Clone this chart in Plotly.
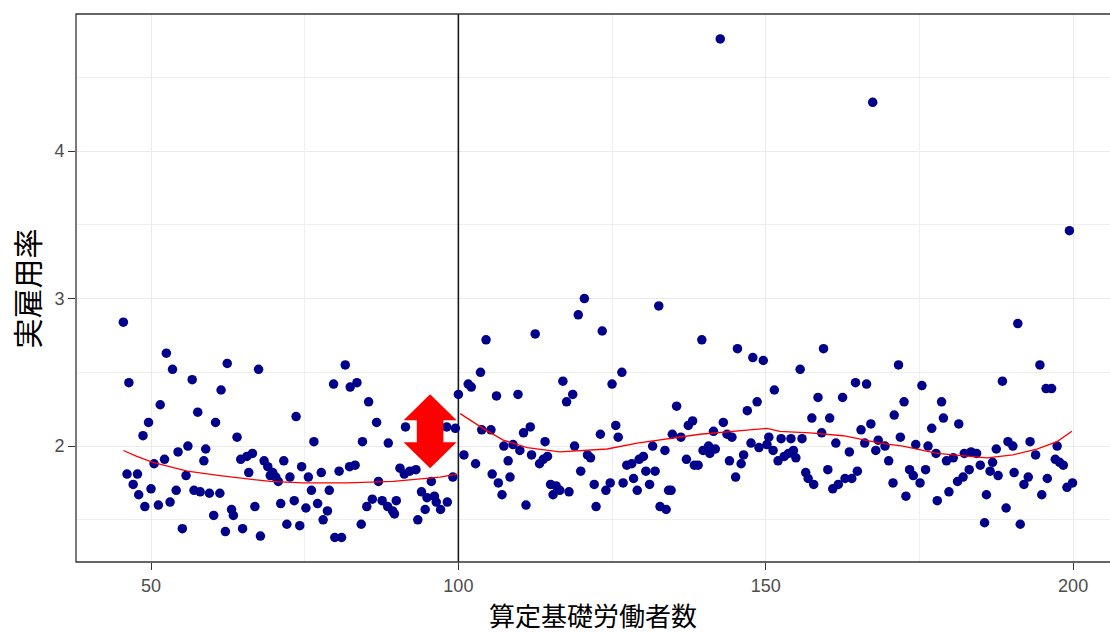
import plotly.graph_objects as go

# ---- data ----
workers = [
    45.5, 52.5, 53.5, 62.4, 67.5, 46.4, 56.7, 61.4, 51.5, 57.6, 49.6, 60.5, 48.7, 64.0, 56.0, 58.9,
    54.4, 66.5, 65.6, 64.6, 52.2, 58.6, 50.5, 68.4, 69.0, 46.1, 47.8, 55.7, 65.9, 47.1, 50.0, 54.1,
    57.0, 58.0, 59.5, 61.2, 48.0, 49.0, 51.2, 53.1, 66.9, 63.1, 63.4, 60.2, 55.1, 62.1, 64.9, 67.8,
    81.6, 79.7, 82.4, 83.5, 85.4, 73.6, 86.7, 91.4, 98.1, 99.5, 76.5, 84.4, 88.6, 69.8, 69.4, 70.3,
    71.6, 74.5, 72.6, 75.6, 70.7, 77.7, 80.6, 82.3, 83.2, 90.5, 91.2, 92.1, 93.1, 87.0, 95.6, 99.1,
    76.1, 79.0, 71.1, 73.3, 75.2, 77.1, 78.7, 78.0, 86.0, 85.1, 87.6, 88.5, 89.3, 89.6, 89.9, 94.0,
    94.9, 96.1, 94.6, 96.4, 97.1, 98.2, 93.4, 72.1, 74.2, 84.2, 79.9, 81.0,
    100.0, 120.5, 119.5, 132.6, 104.5, 112.5, 123.4, 103.6, 101.6, 102.1, 106.2, 109.7, 117.0, 118.6,
    117.6, 125.0, 126.6, 125.6, 126.0, 123.1, 103.8, 105.3, 110.6, 111.7, 114.1, 107.4, 108.9, 110.0,
    118.9, 131.6, 133.6, 100.9, 102.8, 111.9, 114.5, 113.8, 113.2, 108.1, 121.0, 121.5, 119.9, 105.5,
    106.5, 108.4, 107.1, 115.0, 115.9, 115.4, 116.5, 118.0, 122.1, 124.7, 124.0, 111.0, 122.4, 127.4,
    128.2, 129.4, 130.1, 130.5, 132.0, 126.8, 128.5, 129.1, 131.1, 134.2, 132.8, 133.8,
    139.6, 145.4, 147.9, 149.6, 159.4, 155.6, 151.4, 158.5, 162.5, 164.6, 166.4, 135.5, 148.6, 147.0,
    157.5, 160.4, 167.1, 165.5, 137.4, 138.1, 143.1, 141.5, 134.8, 136.2, 143.7, 144.5, 159.1, 139.8,
    140.7, 141.8, 140.9, 147.6, 148.9, 150.5, 150.2, 151.2, 152.5, 154.1, 155.9, 161.4, 163.6, 166.1,
    167.9, 168.3, 137.1, 138.4, 139.0, 146.4, 146.0, 144.1, 145.1, 152.0, 153.0, 153.7, 154.5, 154.9,
    156.5, 156.9, 157.8, 160.1, 160.9, 161.8, 162.9, 164.0, 164.9, 134.6,
    191.0, 194.6, 195.6, 196.5, 188.5, 171.6, 175.4, 172.5, 178.6, 170.9, 178.9, 177.0, 181.4, 171.9,
    169.4, 174.4, 176.4, 177.7, 170.0, 179.4, 180.5, 182.3, 183.4, 184.3, 184.9, 187.5, 186.9, 186.5,
    187.8, 189.4, 190.2, 193.0, 193.9, 197.4, 197.1, 197.8, 198.4, 173.4, 174.0, 175.1, 176.0, 170.7,
    172.8, 177.9, 179.8, 181.2, 182.1, 183.1, 185.9, 190.4, 192.7, 192.0, 195.8, 194.9, 199.0, 199.9,
    189.1, 185.6, 191.4, 142.6, 167.4, 199.4,
]
rate = [
    2.84, 2.63, 2.52, 2.56, 2.52, 2.43, 2.45, 2.38, 2.28, 2.23, 2.16, 2.16, 2.07, 2.06, 2.00, 1.98,
    1.96, 1.95, 1.93, 1.91, 1.91, 1.90, 1.88, 1.90, 1.86, 1.81, 1.81, 1.80, 1.82, 1.74, 1.71, 1.70,
    1.70, 1.69, 1.68, 1.68, 1.67, 1.59, 1.60, 1.62, 1.59, 1.57, 1.53, 1.53, 1.44, 1.42, 1.44, 1.39,
    2.55, 2.42, 2.40, 2.43, 2.30, 2.20, 2.16, 2.13, 2.13, 2.12, 2.03, 2.03, 2.02, 1.82, 1.80, 1.79,
    1.90, 1.86, 1.79, 1.79, 1.76, 1.82, 1.83, 1.86, 1.87, 1.85, 1.81, 1.83, 1.84, 1.76, 1.76, 1.79,
    1.70, 1.70, 1.61, 1.63, 1.58, 1.61, 1.56, 1.50, 1.64, 1.59, 1.63, 1.59, 1.56, 1.54, 1.63, 1.69,
    1.65, 1.66, 1.57, 1.62, 1.57, 1.62, 1.50, 1.47, 1.46, 1.47, 1.38, 1.38,
    2.35, 3.00, 2.89, 2.95, 2.72, 2.76, 2.78, 2.50, 2.42, 2.40, 2.34, 2.35, 2.44, 2.35,
    2.30, 2.42, 2.50, 2.14, 2.06, 2.08, 2.11, 2.11, 2.09, 2.13, 2.03, 2.00, 2.01, 1.97,
    2.00, 2.00, 1.97, 1.94, 1.88, 1.94, 1.93, 1.91, 1.88, 1.90, 1.94, 1.92, 1.83, 1.81,
    1.75, 1.79, 1.67, 1.74, 1.73, 1.67, 1.70, 1.69, 1.74, 1.75, 1.70, 1.60, 1.59, 1.87,
    1.88, 1.91, 1.93, 1.83, 1.83, 1.75, 1.78, 1.70, 1.74, 1.70, 1.59, 1.57,
    2.72, 2.66, 2.60, 2.58, 2.66, 2.52, 2.38, 2.33, 2.33, 2.43, 2.42, 2.27, 2.30, 2.24,
    2.19, 2.19, 2.15, 2.11, 2.14, 2.17, 2.16, 2.10, 2.08, 2.06, 2.08, 2.06, 2.09, 1.97,
    2.00, 1.98, 1.95, 2.02, 1.99, 2.06, 2.01, 1.97, 2.05, 2.05, 2.05, 2.02, 1.96, 2.02,
    1.97, 2.04, 1.91, 1.87, 1.87, 1.94, 1.88, 1.90, 1.79, 1.90, 1.93, 1.95, 1.97, 1.92,
    1.82, 1.78, 1.74, 1.84, 1.71, 1.74, 1.78, 1.78, 1.83, 1.70,
    2.83, 2.55, 2.39, 2.39, 2.44, 2.55, 2.41, 2.30, 2.30, 2.21, 2.19, 2.12, 2.15, 2.06,
    2.00, 2.01, 2.00, 1.95, 1.90, 1.90, 1.92, 1.95, 1.96, 1.95, 1.87, 1.98, 1.89, 1.83,
    1.80, 2.03, 2.00, 2.03, 1.94, 2.00, 1.91, 1.89, 1.87, 1.84, 1.80, 1.75, 1.84, 1.75,
    1.66, 1.63, 1.69, 1.76, 1.79, 1.84, 1.67, 1.82, 1.79, 1.74, 1.78, 1.67, 1.72, 1.75,
    1.58, 1.48, 1.47, 4.76, 4.33, 3.46,
]

# smoothed fits on each side of the cutoff
fit_left_x = [45.5, 47.7, 50.3, 55.9, 61.2, 65.0, 69.4, 74.7, 81.9, 89.4, 93.8, 97.0, 99.8]
fit_left_y = [1.97, 1.93, 1.89, 1.83, 1.80, 1.78, 1.76, 1.75, 1.75, 1.76, 1.78, 1.79, 1.81]
fit_right_x = [100.3, 104.0, 107.3, 111.2, 116.5, 120.3, 124.2, 129.1, 133.9, 139.3, 147.4, 150.2,
               152.3, 157.2, 162.6, 166.5, 168.6, 172.3, 177.9, 183.2, 186.0, 190.2, 194.1, 197.4, 199.8]
fit_right_y = [2.22, 2.12, 2.04, 1.99, 1.96, 1.97, 1.98, 2.02, 2.05, 2.08, 2.11, 2.12,
               2.10, 2.09, 2.07, 2.04, 2.02, 2.00, 1.95, 1.93, 1.92, 1.94, 1.98, 2.03, 2.10]

cutoff = 100
arrow_x = 95.4
arrow_mid = 2.10
x_range = [37.8, 206.0]
y_range = [1.214, 4.929]
x_ticks = [50, 100, 150, 200]
x_minor = [75, 125, 175]
y_ticks = [2, 3, 4]
y_minor = [1.5, 2.5, 3.5, 4.5]
x_title = "算定基礎労働者数"
y_title = "実雇用率"

# ---- figure ----
fig = go.Figure()
# cutoff line (drawn first so the points sit on top)
fig.add_trace(go.Scatter(x=[cutoff, cutoff], y=y_range, mode="lines",
                         line=dict(color="#1A1A1A", width=1.6), hoverinfo="skip"))
fig.add_trace(go.Scatter(x=workers, y=rate, mode="markers",
                         marker=dict(color="#00008B", size=9.5, line=dict(width=0)),
                         hoverinfo="skip"))
fig.add_trace(go.Scatter(x=fit_left_x, y=fit_left_y, mode="lines",
                         line=dict(color="#FF0000", width=1.3), hoverinfo="skip"))
fig.add_trace(go.Scatter(x=fit_right_x, y=fit_right_y, mode="lines",
                         line=dict(color="#FF0000", width=1.3), hoverinfo="skip"))

# double-headed red arrow (pixel-sized, anchored at the data point)
fig.add_shape(type="path", xref="x", yref="y", xsizemode="pixel", ysizemode="pixel",
              xanchor=arrow_x, yanchor=arrow_mid,
              path="M0,37 L26.5,11 L13.3,11 L13.3,-11 L26.5,-11 L0,-37 L-26.5,-11 L-13.3,-11 L-13.3,11 L-26.5,11 Z",
              fillcolor="#FF0000", line=dict(width=0), layer="above")

# panel border (right edge lies beyond the picture)
fig.add_shape(type="rect", xref="paper", yref="paper", x0=0, x1=1.02, y0=0, y1=1,
              line=dict(color="#333333", width=1.3), fillcolor="rgba(0,0,0,0)", layer="above")

tickfont = dict(family="Liberation Sans, Arial, sans-serif", size=18, color="#4D4D4D")
fig.update_xaxes(range=x_range, tickvals=x_ticks, ticks="outside", ticklen=7,
                 tickwidth=1.1, tickcolor="#333333", tickfont=tickfont,
                 showgrid=True, gridcolor="#EBEBEB", gridwidth=1.1, zeroline=False, showline=False,
                 minor=dict(tickvals=x_minor, showgrid=True, gridcolor="#EFEFEF", gridwidth=0.7, ticks=""))
fig.update_yaxes(range=y_range, tickvals=y_ticks, ticks="outside", ticklen=7,
                 tickwidth=1.1, tickcolor="#333333", tickfont=tickfont,
                 showgrid=True, gridcolor="#EBEBEB", gridwidth=1.1, zeroline=False, showline=False,
                 minor=dict(tickvals=y_minor, showgrid=True, gridcolor="#EFEFEF", gridwidth=0.7, ticks=""))

cjk = "Noto Sans CJK JP"
fig.add_annotation(text=x_title, xref="paper", yref="paper", x=0.5, y=-0.095,
                   xanchor="center", yanchor="middle", showarrow=False,
                   font=dict(family=cjk, size=26, color="#000000"))
fig.add_annotation(text=y_title, xref="paper", yref="paper", x=-0.0484, y=0.499,
                   xanchor="center", yanchor="middle", showarrow=False, textangle=-90,
                   font=dict(family=cjk, size=30, color="#000000"))

fig.update_layout(width=1110, height=633, margin=dict(l=76, r=0, t=14, b=71),
                  plot_bgcolor="white", paper_bgcolor="white", showlegend=False)

fig.write_html("out.html", config={"displayModeBar": False},
               post_script="document.body.style.margin='0';document.body.style.overflow='hidden';")
